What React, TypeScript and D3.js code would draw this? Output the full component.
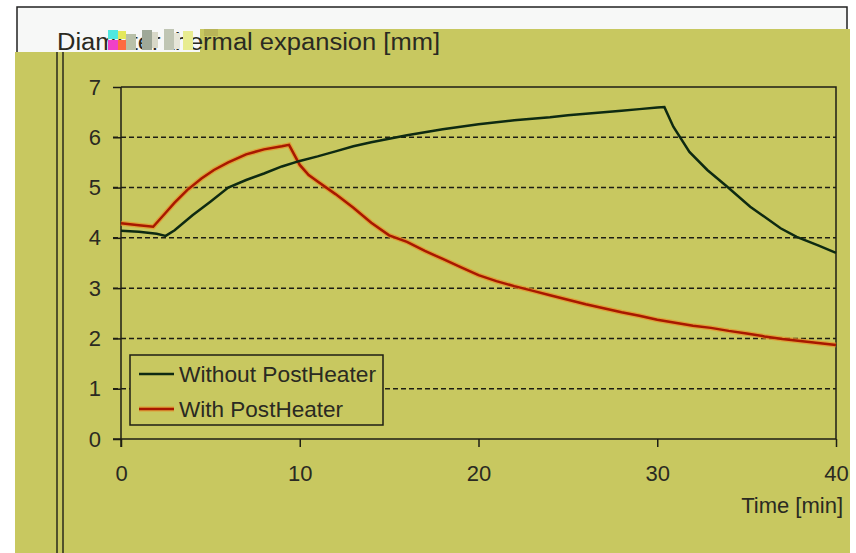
import { useEffect, useRef } from 'react';
import * as d3 from 'd3';

// time [min] and diameter thermal expansion [mm]
const withoutTime = [0, 1, 2, 2.5, 3, 4, 5, 6, 7, 8, 9, 10, 11, 12, 13, 14, 15, 16, 17, 18, 19, 20, 21, 22, 23, 24, 25, 26, 27, 28, 29, 30, 30.4, 30.9, 31.8, 32.8, 33.9, 35.2, 36.9, 37.8, 39, 40];
const withoutValues = [4.14, 4.12, 4.08, 4.04, 4.15, 4.45, 4.72, 5.0, 5.15, 5.28, 5.42, 5.53, 5.62, 5.72, 5.82, 5.9, 5.97, 6.04, 6.1, 6.16, 6.21, 6.26, 6.3, 6.34, 6.37, 6.4, 6.44, 6.47, 6.5, 6.53, 6.56, 6.59, 6.6, 6.21, 5.71, 5.35, 5.02, 4.62, 4.19, 4.02, 3.85, 3.7];

const withTime = [0, 1, 1.8, 2.5, 3, 3.7, 4.5, 5.2, 6, 7, 8, 9, 9.4, 10, 10.5, 11, 12, 13, 14, 15, 16, 17, 18, 19, 20, 21, 22, 23, 24, 25, 26, 27, 28, 29, 30, 31, 32, 33, 34, 35, 36, 37, 38, 39, 40];
const withValues = [4.29, 4.25, 4.22, 4.5, 4.7, 4.95, 5.18, 5.35, 5.5, 5.66, 5.76, 5.82, 5.85, 5.45, 5.25, 5.12, 4.87, 4.6, 4.3, 4.05, 3.92, 3.74, 3.58, 3.42, 3.26, 3.14, 3.04, 2.95, 2.86, 2.77, 2.68, 2.6, 2.52, 2.45, 2.37, 2.31, 2.25, 2.21, 2.15, 2.1, 2.04, 1.99, 1.95, 1.91, 1.87];

const xTicks = [0, 10, 20, 30, 40];
const yTicks = [0, 1, 2, 3, 4, 5, 6, 7];
const gridValues = [1, 2, 3, 4, 5, 6];
const legendLabels = ['Without PostHeater', 'With PostHeater'];

const W = 856, H = 553;
const FONT = '"Liberation Sans", Arial, sans-serif';
const INK = '#1e1e14';

const App = () => {
    const svgRef = useRef(null);

    useEffect(() => {
        const svg = d3.select(svgRef.current);
        svg.selectAll('*').remove();

        const x = d3.scaleLinear().domain([0, 40]).range([121, 836]);
        const y = d3.scaleLinear().domain([0, 7]).range([439, 87]);

        // white header strip
        svg.append('rect').attr('x', 0).attr('y', 0).attr('width', W).attr('height', H).attr('fill', '#ffffff');
        svg.append('rect').attr('x', 17).attr('y', 7).attr('width', 830).attr('height', 50)
            .attr('fill', '#f7f8f7').attr('stroke', '#222').attr('stroke-width', 1.5);

        // olive background
        svg.append('path')
            .attr('d', 'M15,52 L200,52 L200,29 L850,29 L850,553 L15,553 Z')
            .attr('fill', '#c8c860');

        // double rule on the left
        [57, 63].forEach(px => {
            svg.append('line').attr('x1', px).attr('x2', px).attr('y1', 52).attr('y2', H)
                .attr('stroke', '#2a2a1a').attr('stroke-width', 1.5);
        });

        // title
        svg.append('text')
            .attr('x', 57).attr('y', 50)
            .attr('textLength', 383).attr('lengthAdjust', 'spacingAndGlyphs')
            .style('font-family', FONT).style('font-size', '23px').style('fill', '#2a2a22')
            .text('Diameter thermal expansion [mm]');

        // glitch blocks over the title
        const glitch = [
            [108, 30, 10, 9, '#4fe8e0'], [118, 31, 8, 8, '#e4e85a'], [108, 40, 10, 10, '#f040c8'],
            [118, 40, 8, 10, '#ff6a40'], [126, 34, 10, 16, '#b8c0a8'], [142, 30, 10, 20, '#9fa898'],
            [152, 32, 6, 16, '#d8d8c8'], [164, 29, 10, 21, '#c0c6b4'], [174, 33, 6, 16, '#e6e6d8'],
            [183, 31, 10, 19, '#e8ec90'], [204, 29, 14, 7, '#b8b458']
        ];
        glitch.forEach(([gx, gy, gw, gh, c]) => {
            svg.append('rect').attr('x', gx).attr('y', gy).attr('width', gw).attr('height', gh).attr('fill', c);
        });

        // dashed gridlines
        svg.append('g').selectAll('line').data(gridValues).enter().append('line')
            .attr('x1', 113).attr('x2', 836)
            .attr('y1', d => y(d)).attr('y2', d => y(d))
            .attr('stroke', INK).attr('stroke-width', 1.5).attr('stroke-dasharray', '5,3');

        // plot frame
        svg.append('path')
            .attr('d', `M${x(0)},${y(7)} L${x(40)},${y(7)} L${x(40)},${y(0)}`)
            .attr('fill', 'none').attr('stroke', INK).attr('stroke-width', 1.5);

        // axes
        const yAxis = d3.axisLeft(y).tickValues(yTicks).tickSize(8).tickPadding(12).tickFormat(d3.format('d'));
        const xAxis = d3.axisBottom(x).tickValues(xTicks).tickSize(8).tickPadding(18).tickFormat(d3.format('d'));

        const gy = svg.append('g').attr('transform', `translate(${x(0)},0)`).call(yAxis);
        const gx = svg.append('g').attr('transform', `translate(0,${y(0)})`).call(xAxis);
        [gy, gx].forEach(g => {
            g.select('.domain').remove();
            g.selectAll('line').attr('stroke', INK).attr('stroke-width', 1.5);
            g.selectAll('text').style('font-family', FONT).style('font-size', '22px').attr('fill', '#2a2a22');
        });
        svg.append('line').attr('x1', x(0)).attr('x2', x(0)).attr('y1', y(7)).attr('y2', y(0) + 8)
            .attr('stroke', INK).attr('stroke-width', 1.5);
        svg.append('line').attr('x1', x(0) - 8).attr('x2', x(40)).attr('y1', y(0)).attr('y2', y(0))
            .attr('stroke', INK).attr('stroke-width', 1.5);

        svg.append('text')
            .attr('x', 843).attr('y', 513).attr('text-anchor', 'end')
            .style('font-family', FONT).style('font-size', '22px').style('fill', '#2a2a22')
            .text('Time [min]');

        // lines
        const line = d3.line().x(d => x(d[0])).y(d => y(d[1]));
        const withoutData = withoutTime.map((t, i) => [t, withoutValues[i]]);
        const withData = withTime.map((t, i) => [t, withValues[i]]);

        svg.append('path').datum(withData).attr('d', line)
            .attr('fill', 'none').attr('stroke', '#e8902a').attr('stroke-opacity', 0.7).attr('stroke-width', 5);
        svg.append('path').datum(withData).attr('d', line)
            .attr('fill', 'none').attr('stroke', '#a81800').attr('stroke-width', 2.5);
        svg.append('path').datum(withoutData).attr('d', line)
            .attr('fill', 'none').attr('stroke', '#0e2a12').attr('stroke-width', 2.5);

        // legend
        const legend = svg.append('g');
        legend.append('rect').attr('x', 130).attr('y', 355).attr('width', 253).attr('height', 70)
            .attr('fill', '#c8c860').attr('stroke', INK).attr('stroke-width', 1.5);
        const legendColors = ['#0e2a12', '#a81800'];
        const legendWidths = [197, 164];
        legendLabels.forEach((label, i) => {
            const ly = 374 + i * 35;
            if (i === 1) {
                legend.append('line').attr('x1', 139).attr('x2', 174).attr('y1', ly).attr('y2', ly)
                    .attr('stroke', '#e8902a').attr('stroke-opacity', 0.7).attr('stroke-width', 5);
            }
            legend.append('line').attr('x1', 139).attr('x2', 174).attr('y1', ly).attr('y2', ly)
                .attr('stroke', legendColors[i]).attr('stroke-width', 2.5);
            legend.append('text').attr('x', 179).attr('y', ly + 8)
                .attr('textLength', legendWidths[i]).attr('lengthAdjust', 'spacingAndGlyphs')
                .style('font-family', FONT).style('font-size', '22px').style('fill', '#2a2a22')
                .text(label);
        });
    }, []);

    return (
        <svg ref={svgRef} width={W} height={H}
            style={{ position: 'absolute', left: 0, top: 0, display: 'block' }} />
    );
};

export default App;
